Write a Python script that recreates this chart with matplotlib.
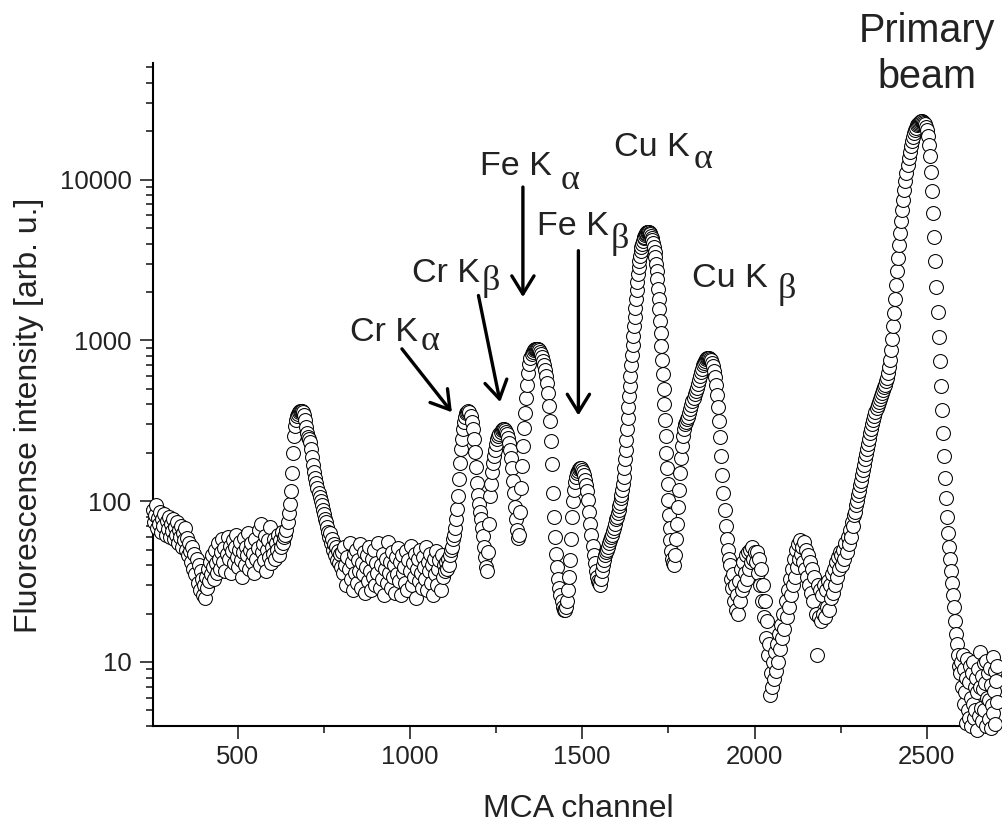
"""XRF spectrum of a steel sample: fluorescence counts per MCA channel (log scale)."""

import numpy as np
import matplotlib

matplotlib.use("Agg")
import matplotlib.pyplot as plt
from matplotlib.ticker import (FixedLocator, FuncFormatter, LogLocator,
                               MultipleLocator, NullFormatter)

plt.rcParams["font.family"] = ["Liberation Sans", "DejaVu Sans"]

# Counts per segment: (first channel, channel step, counts)
BG_LOW = [88, 74, 82, 95, 68, 79, 72, 86, 64, 77, 70, 83, 62, 75, 67, 80,
          60, 72, 65, 78, 58, 69, 62, 74, 55, 66, 60, 70, 52, 63, 57, 68, 50,
          59, 46, 55, 49, 42, 52, 38, 47, 35, 44, 31, 40, 28, 37, 33, 26, 30,
          25, 34, 29, 38, 32, 42, 35, 46, 39, 33, 50, 41, 36, 55, 44, 38, 48,
          58, 42, 51, 37, 47, 60, 44, 53, 36, 49, 57, 41, 52, 62, 45, 39, 50,
          56, 43, 34, 48, 59, 40, 52, 46, 63, 38, 50, 55, 42, 47, 36, 58, 44,
          51, 66, 40, 72, 48, 54, 43, 61, 37, 50, 57, 45, 69, 41, 52, 47, 58,
          44, 55, 50, 62, 46, 57, 52, 64, 55, 60]
PEAK_690 = [62, 66, 74, 84, 96, 115, 150, 200, 255, 295,
            320, 338, 348, 356, 362, 365, 366, 360, 345, 318,
            290, 265, 250, 242, 232, 212, 188, 168, 152, 140,
            130, 121, 113, 106, 100, 94, 88, 83, 78, 74,
            69, 64, 60, 63, 55, 58, 50, 54, 46, 52,
            43, 49, 41, 47, 39]
BG_MID = [48, 36, 52, 40, 30, 45, 38, 55, 33, 42,
          28, 47, 36, 50, 31, 43, 37, 54, 29, 41,
          35, 48, 27, 39, 46, 32, 52, 37, 28, 44,
          34, 50, 30, 41, 36, 55, 29, 40, 33, 47,
          26, 38, 44, 31, 56, 36, 42, 29, 48, 34,
          40, 27, 45, 35, 51, 32, 42, 26, 46, 36,
          39, 31, 49, 28, 43, 37, 53, 30, 41, 34,
          47, 25, 38, 44, 32, 50, 36, 29, 45, 39,
          33, 52, 28, 42, 37, 47, 31, 40, 26, 44,
          35, 49, 30, 38, 43, 28, 46, 34, 40, 37, 42]
CR_FE = [38, 44, 40, 46, 50, 52, 58, 62, 68, 78,
         90, 108, 138, 172, 210, 245, 282, 312, 335, 352,
         360, 363, 356, 338, 312, 282, 245, 202, 162, 130,
         110, 96, 86, 77, 68, 61, 52, 45, 39, 37,
         48, 72, 108, 128, 152, 172, 190, 208, 226, 242,
         254, 263, 270, 276, 280, 282, 279, 270, 260, 248,
         230, 208, 186, 160, 134, 112, 92, 78, 66, 59,
         62, 86, 120, 165, 220, 285, 355, 435, 525, 630,
         715, 780, 825, 852, 870, 882, 887, 888, 882, 870,
         852, 826, 790, 748, 700, 650, 598, 540, 470, 390,
         315, 238, 170, 112, 80, 60, 47, 39, 33, 29,
         26, 24, 22, 21, 21, 22, 24, 28, 34, 43,
         58, 80, 100, 117, 131, 142, 150, 155, 158, 160,
         160, 157, 152, 145, 136, 126, 115, 101, 86, 72,
         62, 53, 46, 41, 37, 34, 32, 31, 30, 33,
         37, 40, 43, 46, 48, 50, 52, 55, 57, 60,
         62, 65, 68, 72, 77]
CU_KA = [80, 84, 88, 93, 98, 104, 110, 118, 128, 142,
         160, 182, 208, 240, 280, 330, 385, 450, 520, 600,
         700, 810, 930, 1060, 1220, 1400, 1600, 1820, 2060, 2320,
         2580, 2850, 3100, 3350, 3580, 3800, 3990, 4160, 4300, 4420,
         4520, 4600, 4660, 4700, 4720, 4720, 4700, 4650, 4580, 4480,
         4350, 4200, 4020, 3800, 3560, 3290, 3000, 2700, 2400, 2100,
         1820, 1560, 1320, 1110, 920, 760, 620, 500, 400, 320,
         255, 200, 160, 128, 102, 82, 68, 57, 49, 44]
CU_KB = [41, 40, 46, 58, 72, 92, 118, 150, 185, 220,
         255, 282, 300, 312, 322, 335, 352, 372, 395, 418,
         440, 462, 485, 508, 535, 565, 598, 632, 665, 698,
         725, 748, 765, 776, 782, 780, 770, 752, 725, 690,
         645, 590, 525, 455, 385, 315, 250, 192, 146, 112,
         88, 70, 58, 50, 44, 40, 33, 29, 35, 24,
         30, 21, 26, 20, 32, 24, 38, 28, 42, 30,
         36, 46, 33, 48, 38, 50, 42, 52, 44, 48]
VALLEY = [42, 48, 36, 44, 30, 38, 24, 30, 19, 24,
          14, 18, 11, 13, 6.2, 8.5, 7, 10, 7.8, 11.5,
          8.8, 13, 10, 15, 12, 17, 14, 20, 16, 24,
          19, 28, 22, 33, 26, 38, 30, 44, 34, 50,
          39, 54, 44, 57, 47, 52, 42, 56, 38, 50,
          34, 46, 30, 42, 27, 38, 24, 34, 20, 11,
          30, 19, 28, 18, 26, 20, 30, 19, 28, 22,
          32, 21, 30, 25, 35, 27, 38, 30, 42, 34,
          45, 38, 48]
PRIMARY = [46, 40, 50, 44, 55, 48, 60, 54, 66, 60,
           74, 70, 82, 86, 94, 100, 110, 116, 126, 134,
           145, 156, 168, 182, 196, 212, 228, 245, 264, 282,
           300, 320, 340, 360, 380, 398, 416, 434, 452, 470,
           490, 510, 530, 555, 585, 625, 680, 760, 870, 1020,
           1220, 1480, 1800, 2200, 2680, 3250, 3900, 4650, 5500, 6450,
           7500, 8600, 9800, 11000, 12300, 13600, 14900, 16100, 17300, 18400,
           19400, 20300, 21000, 21700, 22200, 22600, 22900, 23000, 23000, 22900,
           22600, 22100, 21300, 20200, 18600, 16500, 14000, 11200, 8500, 6200,
           4400, 3100, 2150, 1500, 1050, 740, 520, 370, 265, 190,
           140, 104, 80, 63, 52, 44, 37, 31, 26, 22,
           18, 15, 13, 11, 9.5, 8.5, 10]
TAIL = [7, 11, 5.5, 9, 6.5, 4.2, 8, 10.5, 5, 7.5,
        4.5, 9.5, 6, 4, 8.5, 5.5, 10, 4.5, 7, 5,
        8, 3.8, 6.5, 9, 4.6, 7, 11.5, 5.2, 8.2, 4.3,
        6.8, 9.8, 5, 7.4, 4, 10.2, 6, 8.6, 4.4, 5.8,
        9.2, 3.9, 7.2, 5.4, 10.8, 4.8, 6.6, 8.8, 4.1, 7.6,
        5.6, 9.4]

SEGMENTS = [
    (255, 3, BG_LOW),
    (639, 3, PEAK_690),
    (804, 3, BG_MID),
    (1107, 3, CR_FE),
    (1602, 2, CU_KA),
    (1763, 3, CU_KB),
    (2003, 3, VALLEY),
    (2252, 3, PRIMARY),
    (2603, 2, TAIL),
]

channel = np.concatenate([s + d * np.arange(len(v)) for s, d, v in SEGMENTS])
counts = np.concatenate([np.asarray(v, dtype=float) for _, _, v in SEGMENTS])

# line labels: (text, greek letter, x, y, greek gap [pt], greek drop [pt])
LINES = [
    ("Cr K", "\u03b1", 827, 997, 1.5, 7),
    ("Cr K", "\u03b2", 1006, 2300, 1.5, 6),
    ("Fe K", "\u03b1", 1204, 10600, 6, 10),
    ("Fe K", "\u03b2", 1368, 4490, 1.5, 9),
    ("Cu K", "\u03b1", 1591, 14100, 3, 9),
    ("Cu K", "\u03b2", 1818, 2140, 7, 8),
]
# arrows: (tail, head) in data coordinates
ARROWS = [
    ((977, 885), (1122, 357)),
    ((1199, 1900), (1262, 413)),
    ((1328, 8980), (1328, 1857)),
    ((1489, 3610), (1489, 341)),
]

fig = plt.figure(figsize=(10.03, 8.25), dpi=100)
ax = fig.add_axes([0.1525, 0.12, 0.8475, 0.8036])

ax.plot(channel, counts, "o", ls="none", ms=10, mfc="white", mec="black",
        mew=0.75, clip_on=False, zorder=3)

ax.set_yscale("log")
ax.set_xlim(254.6, 2721)
ax.set_ylim(4, 53000)

ax.xaxis.set_major_locator(MultipleLocator(500))
ax.xaxis.set_minor_locator(MultipleLocator(250))
ax.yaxis.set_major_locator(FixedLocator([10, 100, 1000, 10000]))
ax.yaxis.set_major_formatter(FuncFormatter(lambda v, _: f"{v:.0f}"))
ax.yaxis.set_minor_locator(LogLocator(base=10, subs=np.arange(2, 10), numticks=20))
ax.yaxis.set_minor_formatter(NullFormatter())

for side in ("top", "right"):
    ax.spines[side].set_visible(False)
for side in ("left", "bottom"):
    ax.spines[side].set_linewidth(1.5)

ax.tick_params(which="major", direction="out", length=9.4, width=1.2,
               labelsize=18.5, color="#222222", labelcolor="#222222")
ax.tick_params(which="minor", direction="out", length=4.8, width=1.2, color="#222222")
ax.tick_params(axis="x", which="major", pad=4.5)
ax.tick_params(axis="y", which="major", pad=6)

ax.set_ylabel("Fluorescense intensity [arb. u.]", fontsize=23, color="#222222")
ax.yaxis.set_label_coords(-0.128, 0.469)
fig.text(578 / 1003, 1 - 817 / 825, "MCA channel", fontsize=23, ha="center",
         va="baseline", color="#222222")

renderer = fig.canvas.get_renderer()
for head, greek, x, y, gap, drop in LINES:
    t = ax.text(x, y, head, fontsize=24.5, ha="left", va="baseline", color="#222222")
    w = t.get_window_extent(renderer=renderer).width * 72 / fig.dpi
    ax.annotate(greek, (x, y), xytext=(w + gap, -drop), textcoords="offset points",
                fontsize=26, ha="left", va="baseline", family="Liberation Serif",
                color="#222222")

for tail, tip in ARROWS:
    ax.annotate("", xy=tip, xytext=tail,
                arrowprops=dict(arrowstyle="->,head_length=0.65,head_width=0.4",
                                lw=2.4, color="black", shrinkA=0, shrinkB=0,
                                mutation_scale=20))

fig.text(927 / 1003, 1 - 41.7 / 825, "Primary", fontsize=28.5, ha="center",
         va="baseline", color="#222222")
fig.text(927 / 1003, 1 - 88 / 825, "beam", fontsize=28.5, ha="center",
         va="baseline", color="#222222")

fig.savefig("out.png", dpi=100)
